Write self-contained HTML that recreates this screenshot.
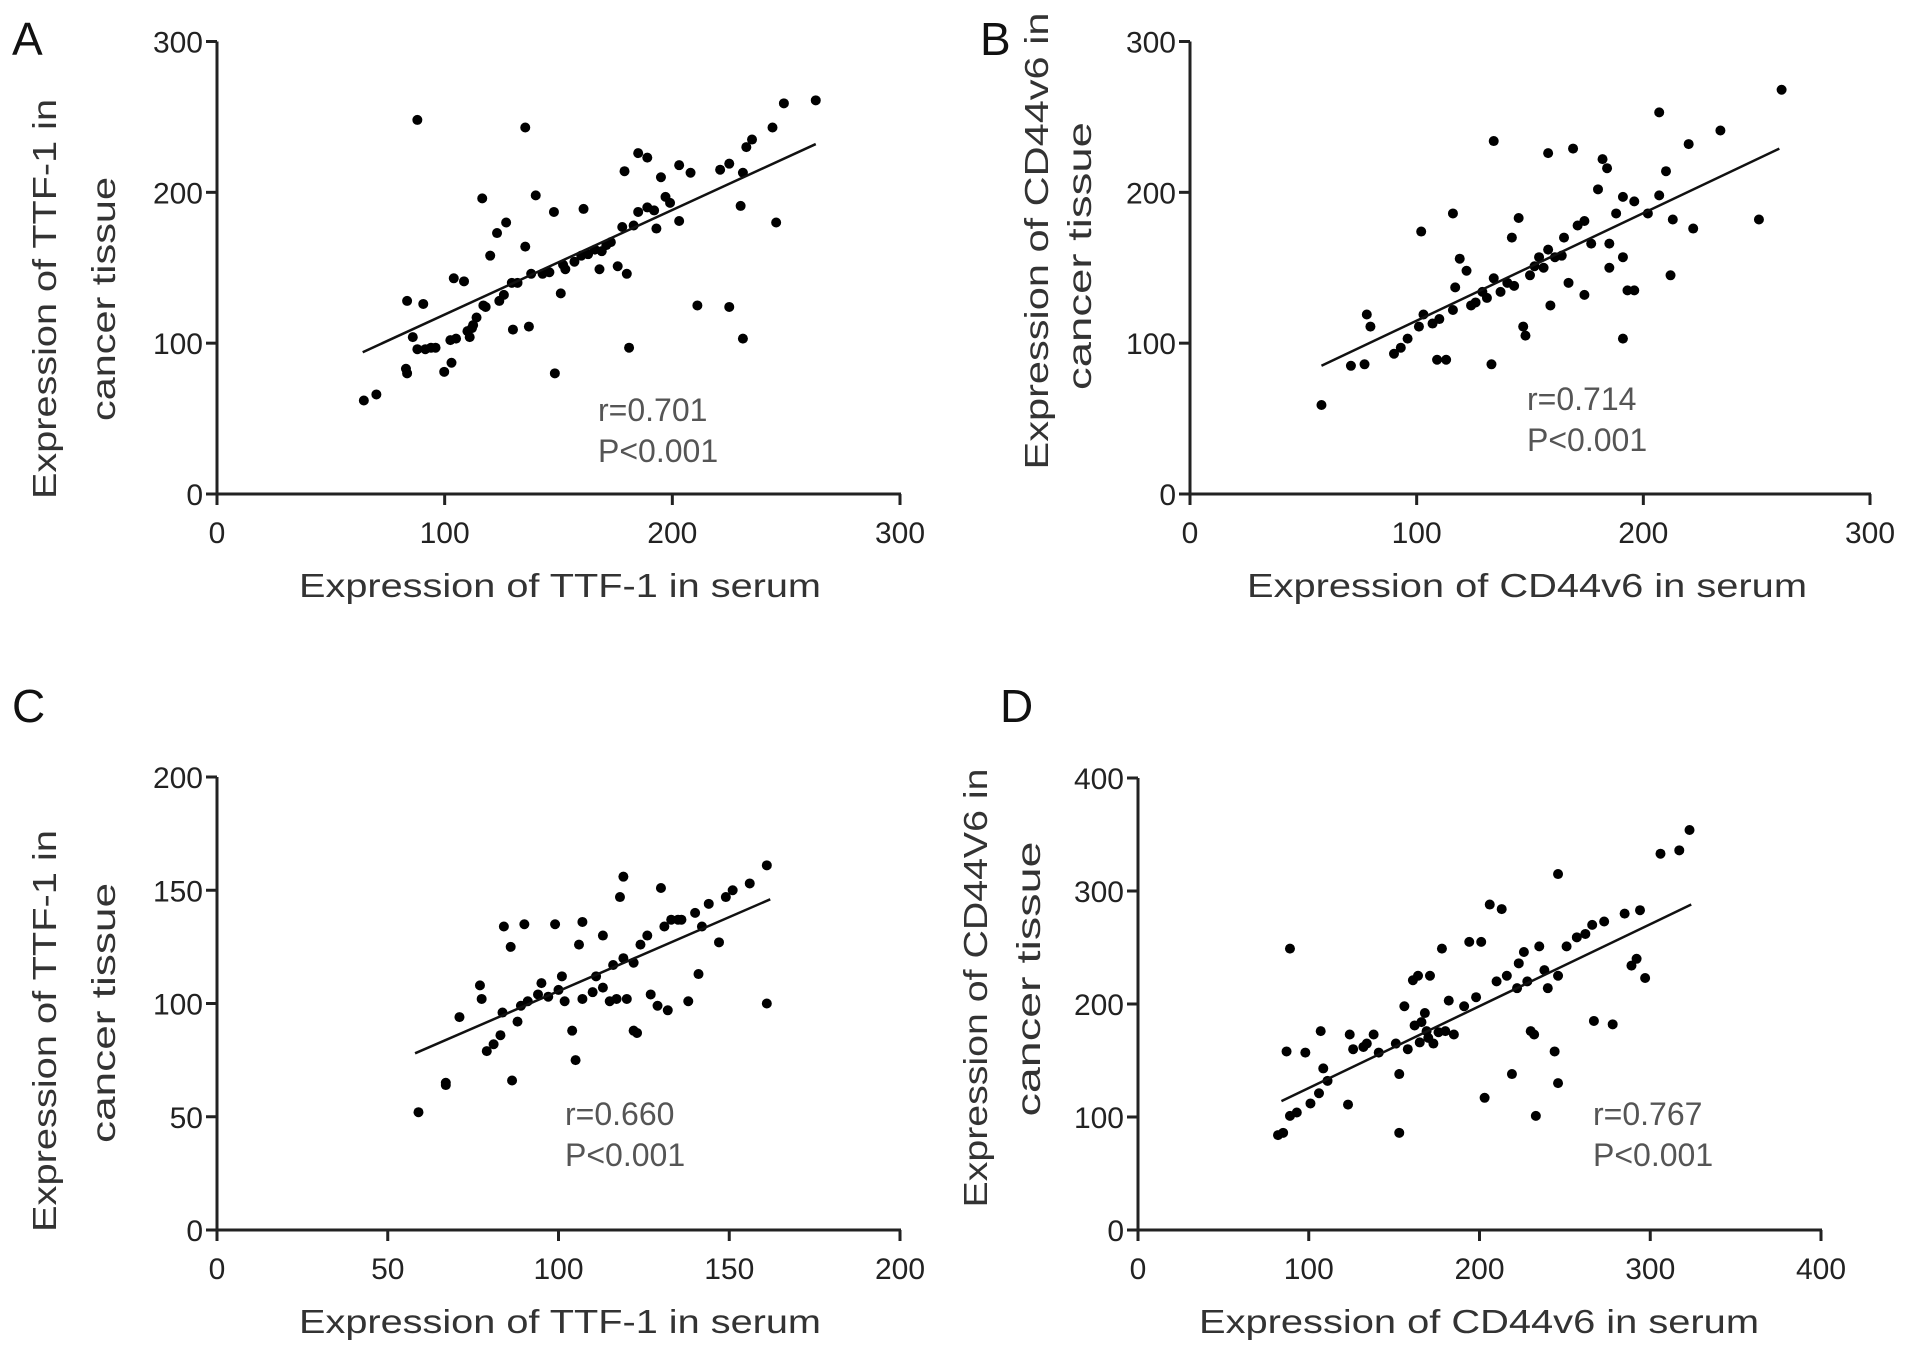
<!DOCTYPE html>
<html><head><meta charset="utf-8"><style>
html,body{margin:0;padding:0;background:#fff}
svg{display:block}
text{font-family:"Liberation Sans",sans-serif}
</style></head><body>
<svg id="fig" width="1913" height="1357" viewBox="0 0 1913 1357" xmlns="http://www.w3.org/2000/svg"></svg>
<script>
// Panel A data (TTF-1 serum vs tissue)
const aX=[64.5,70,88,83.5,90.6,83,83.5,86,91.5,96,99.8,103,102.5,104,108.5,111,112.5,117,124,116.5,123,127,120,130,137,135.4,140,135.4,129.5,138,143,148,148.4,151,153,157,161,163,169,168,173,176,180,181,179,185,189,178,185,189,195,197,193,203,203,208,211,221,225,225,230,231,231,232.5,235,244,245.6,249,263,110,114,118,126,132,146,152,160,166,171,183,192,199,88,94,105,112];
const aY=[62,66,248,128,126,83,80,104,96,97,81,87,102,143,141,104,112,125,128,196,173,180,158,109,111,243,198,164,140,146,146,187,80,133,149,154,189,159,161,149,167,151,146,97,214,226,223,177,187,190,210,197,176,181,218,213,125,215,219,124,191,103,213,230,235,243,180,259,261,108,117,124,132,140,147,152,158,162,165,178,188,193,96,97,103,110];
const aFit=[[64,94],[263,232]];
// Panel B data (CD44v6)
const bX=[58,71,77,78,79.6,90,93,96,101,103,102,109,113,107,110,116,117,119,116,122,126,129,134,134,133,137,140,142,145,147,148,150,152,154,158,158,161,159,167,169,165,171,174,174,177,180,182,184,185,185,188,191,191,193,196,191,196,202,207,207,210,212,213,220,222,234,251,261,124,131,143,156,164];
const bY=[59,85,86,119,111,93,97,103,111,119,174,89,89,113,116,122,137,156,186,148,127,134,143,234,86,134,140,170,183,111,105,145,151,157,226,162,157,125,140,229,170,178,181,132,166,202,222,216,166,150,186,157,197,135,135,103,194,186,253,198,214,145,182,232,176,241,182,268,125,130,138,150,158];
const bFit=[[58,85],[260,229]];
// Panel C data (TTF-1)
const cX=[59,67,67,71,77,77.5,79,81,83,84,83.6,86,86.4,88,90,91,94,95,99,100,101,101.8,104,106,107,107,105,110,111,113,113,115,118,119,116,119,117,120,122,123,124,126,127,129,131,132,133,135,136,138,140,141,142,144,147,149,151,156,161,161,130,122,89,97];
const cY=[52,64,65,94,108,102,79,82,86,134,96,125,66,92,135,101,104,109,135,106,112,101,88,126,102,136,75,105,112,107,130,101,147,156,117,120,102,102,88,87,126,130,104,99,134,97,137,137,137,101,140,113,134,144,127,147,150,153,100,161,151,118,99,103];
const cFit=[[58,78],[162,146]];
// Panel D data (CD44V6)
const dX=[82,85,87,89,89,93,98,101,106,107,108.5,111,123,124,126,132,134,138,141,151,153,153,156,161,162,164,166,168,169,171,173,178,180,182,185,191,194,198,201,203,206,210,213,216,219,223,226,230,232,233,235,240,244,246,246,246,251,257,262,266,267,273,278,285,289,292,294,297,306,317,323,158,165,170,176,222,228,238];
const dY=[84,86,158,249,101,104,157,112,121,176,143,132,111,173,160,162,165,173,157,165,138,86,198,221,181,225,184,192,176,225,165,249,176,203,173,198,255,206,255,117,288,220,284,225,138,236,246,176,173,101,251,214,158,225,130,315,251,259,262,270,185,273,182,280,234,240,283,223,333,336,354,160,166,170,175,214,220,230];
const dFit=[[84,114],[324,288]];
// tick labels
const ticks300=[0,100,200,300];
const ticks200=[0,50,100,150,200];
const ticks400=[0,100,200,300,400];

const NS="http://www.w3.org/2000/svg";
const svg=document.getElementById('fig');
function mk(tag,attrs,parent){const e=document.createElementNS(NS,tag);for(const k in attrs)e.setAttribute(k,attrs[k]);(parent||svg).appendChild(e);return e;}

function panel(p){
  const g=mk('g',{});
  
  
  const sx=v=>p.x0+(v-p.xmin)/(p.xmax-p.xmin)*(p.x1-p.x0);
  const sy=v=>p.y0-(v-p.ymin)/(p.ymax-p.ymin)*(p.y0-p.y1);
  const ax=mk('line',{x1:p.x0,y1:p.y0,x2:p.x1+1,y2:p.y0,stroke:'#222','stroke-width':3},g);
  
  
  const ay=mk('line',{x1:p.x0,y1:p.y0+1,x2:p.x0,y2:p.y1,stroke:'#222','stroke-width':3},g);
  
  
  p.xt.forEach(v=>{
    mk('line',{x1:sx(v),y1:p.y0,x2:sx(v),y2:p.y0+11,stroke:'#222','stroke-width':3},g);
    const t=mk('text',{x:sx(v),y:p.y0+49,'text-anchor':'middle','font-size':30,fill:'#222'},g);
    t.textContent=v;
    
    
  });
  p.yt.forEach(v=>{
    mk('line',{x1:p.x0-11,y1:sy(v),x2:p.x0,y2:sy(v),stroke:'#222','stroke-width':3},g);
    const t=mk('text',{x:p.x0-14,y:sy(v)+11,'text-anchor':'end','font-size':30,fill:'#222'},g);
    t.textContent=v;
    
    
  });
  p.xs.forEach((xv,i)=>{
    const c=mk('circle',{cx:sx(xv),cy:sy(p.ys[i]),r:5,fill:'#000'},g);
    
    
  });
  const fl=mk('line',{x1:sx(p.fit[0][0]),y1:sy(p.fit[0][1]),x2:sx(p.fit[1][0]),y2:sy(p.fit[1][1]),stroke:'#111','stroke-width':2.5},g);
  
  
  const r=mk('text',{x:p.sx,y:p.sy,'font-size':32,fill:'#555'},g);
  r.textContent=p.r;
  
  
  const pv=mk('text',{x:p.sx,y:p.sy+41,'font-size':32,fill:'#555'},g);
  pv.textContent='P<0.001';
  
  
  const xt=mk('text',{x:p.xtx,y:p.xty,'text-anchor':'middle','font-size':33,fill:'#333',textLength:p.xtl,lengthAdjust:'spacingAndGlyphs'},g);
  xt.textContent=p.xtitle;
  
  
  p.ytitle.forEach((s,i)=>{
    const t=mk('text',{x:0,y:0,'text-anchor':'middle','font-size':33,fill:'#333',transform:`translate(${p.ytx[i]},${p.yty[i]}) rotate(-90)`,textLength:p.ytl[i],lengthAdjust:'spacingAndGlyphs'},g);
    t.textContent=s;
    
    
  });
  const L=mk('text',{x:p.lx,y:p.ly,'font-size':46,fill:'#111'},g);
  L.textContent=p.id;
  
  
}
panel({id:'A',x0:217,x1:900,y0:494,y1:41.5,xmin:0,xmax:300,ymin:0,ymax:300,xt:ticks300,yt:ticks300,xs:aX,ys:aY,fit:aFit,r:'r=0.701',sx:598,sy:421,xtitle:'Expression of TTF-1 in serum',xtx:560,xty:597,xtl:522,ytitle:['Expression of TTF-1 in','cancer tissue'],ytx:[56,115],yty:[299,299],ytl:[400,244],lx:12,ly:55});
panel({id:'B',x0:1190,x1:1870,y0:494,y1:41.5,xmin:0,xmax:300,ymin:0,ymax:300,xt:ticks300,yt:ticks300,xs:bX,ys:bY,fit:bFit,r:'r=0.714',sx:1527,sy:410,xtitle:'Expression of CD44v6 in serum',xtx:1527,xty:597,xtl:560,ytitle:['Expression of  CD44v6  in','cancer tissue'],ytx:[1048,1091],yty:[241,256],ytl:[457,268],lx:980,ly:55});
panel({id:'C',x0:217,x1:900,y0:1230,y1:777,xmin:0,xmax:200,ymin:0,ymax:200,xt:ticks200,yt:ticks200,xs:cX,ys:cY,fit:cFit,r:'r=0.660',sx:565,sy:1125,xtitle:'Expression of TTF-1 in serum',xtx:560,xty:1333,xtl:522,ytitle:['Expression of TTF-1 in','cancer tissue'],ytx:[56,115],yty:[1031,1013],ytl:[402,260],lx:12,ly:722});
panel({id:'D',x0:1138,x1:1821,y0:1230,y1:778,xmin:0,xmax:400,ymin:0,ymax:400,xt:ticks400,yt:ticks400,xs:dX,ys:dY,fit:dFit,r:'r=0.767',sx:1593,sy:1125,xtitle:'Expression of CD44v6 in serum',xtx:1479,xty:1333,xtl:560,ytitle:['Expression of CD44V6 in','cancer tissue'],ytx:[987,1040],yty:[988,979],ytl:[439,275],lx:1000,ly:722});
</script>
</body></html>
